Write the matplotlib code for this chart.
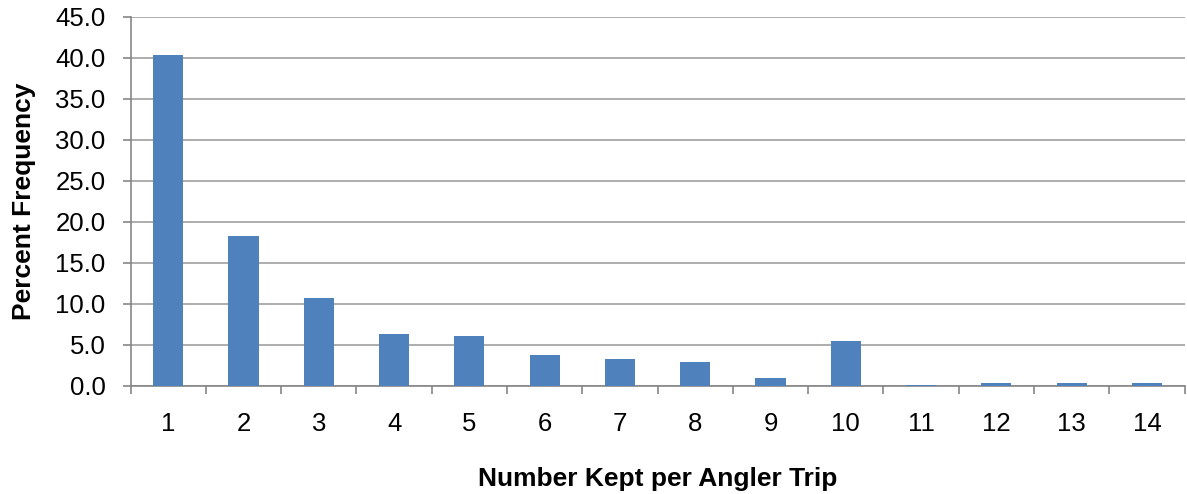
import matplotlib.pyplot as plt
import numpy as np

plt.rcParams['font.family'] = ['Liberation Sans', 'DejaVu Sans']

categories = ['1', '2', '3', '4', '5', '6', '7', '8', '9', '10', '11', '12', '13', '14']
percent = [40.4, 18.3, 10.7, 6.3, 6.1, 3.8, 3.3, 2.9, 1.0, 5.5, 0.1, 0.4, 0.3, 0.4]

fig = plt.figure(figsize=(11.87, 4.94), dpi=100)
ax = fig.add_axes([0.110, 0.219, 0.888, 0.747])

x = np.arange(len(categories))
ax.bar(x, percent, width=0.4, color='#4F81BD', zorder=3)

ax.set_xlim(-0.5, len(categories) - 0.5)
ax.set_ylim(0, 45)
ax.set_yticks(np.arange(0, 46, 5))
ax.set_yticklabels(['%.1f' % v for v in np.arange(0, 46, 5)])
ax.set_xticks(x)
ax.set_xticklabels(categories)
ax.set_xticks(np.arange(-0.5, len(categories), 1), minor=True)

ax.tick_params(axis='x', which='major', length=0, pad=19, labelsize=18.5)
ax.tick_params(axis='x', which='minor', length=6, width=1.2, color='#868686')
ax.tick_params(axis='y', length=6, width=1.2, color='#868686', labelsize=18.5, pad=12)

ax.yaxis.grid(True, color='#A0A0A0', linewidth=1.2, zorder=0)
for s in ['top', 'right']:
    ax.spines[s].set_visible(False)
for s in ['left', 'bottom']:
    ax.spines[s].set_color('#868686')
    ax.spines[s].set_linewidth(1.2)

ax.set_xlabel('Number Kept per Angler Trip', fontsize=19, fontweight='bold', labelpad=22)
ax.set_ylabel('Percent Frequency', fontsize=19, fontweight='bold', labelpad=14)

fig.savefig('out.png', dpi=100)
